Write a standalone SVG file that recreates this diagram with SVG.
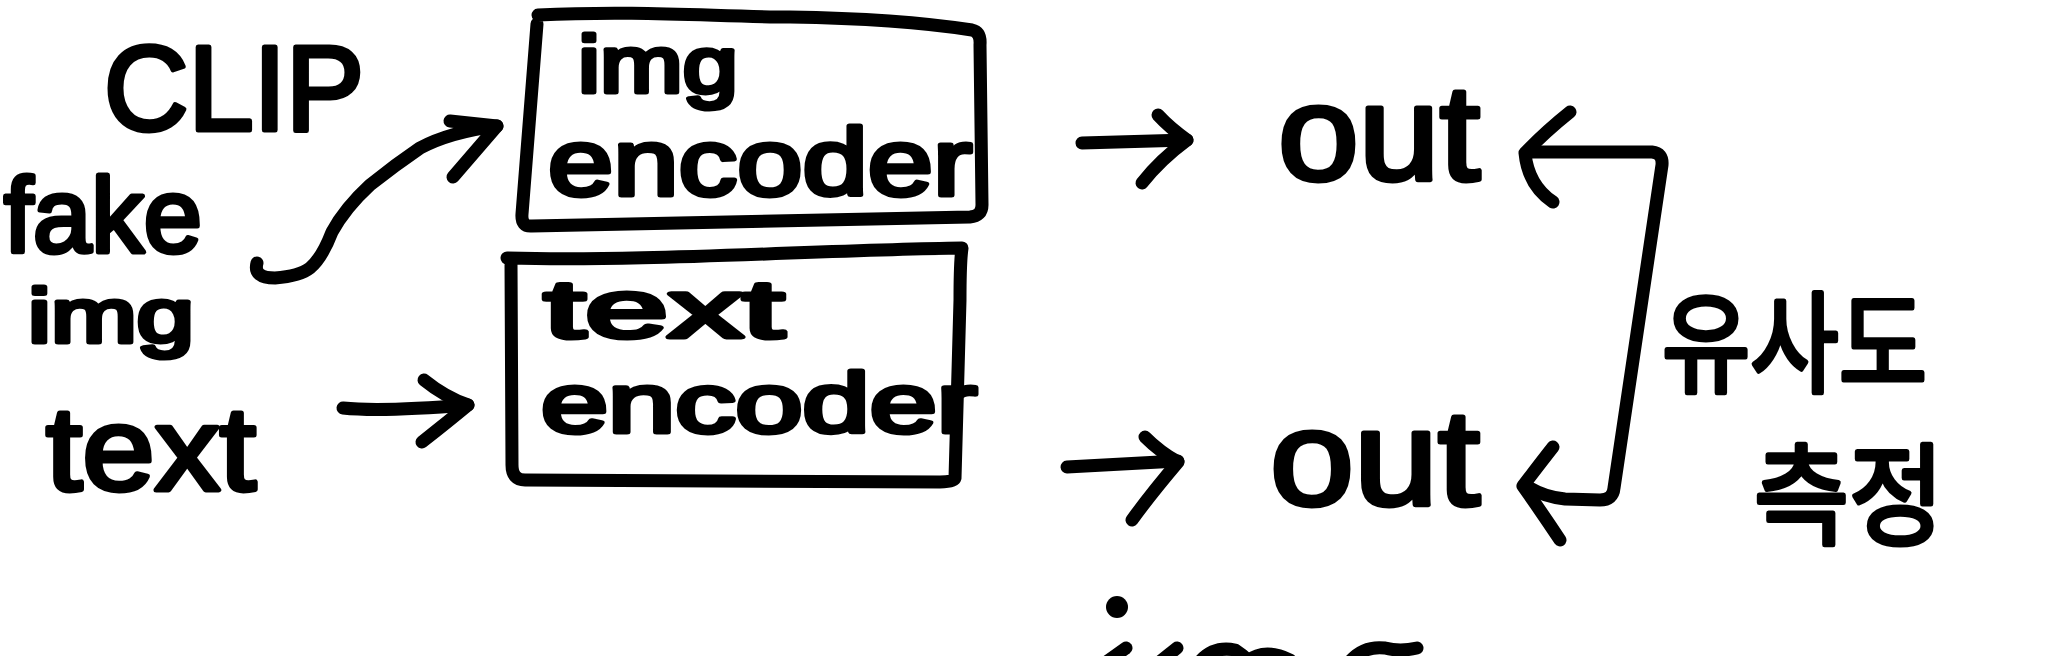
<svg xmlns="http://www.w3.org/2000/svg" width="2048" height="656" viewBox="0 0 2048 656">
<style>
  .hw { font-family: "Liberation Sans", Arial, sans-serif; font-weight: 400; fill: #000; stroke: #000; stroke-width: 5; stroke-linejoin: round; }
  .ko { font-family: "Noto Sans CJK KR", sans-serif; font-weight: 400; fill: #000; stroke: #000; stroke-width: 5; stroke-linejoin: round; }
  .ln { fill: none; stroke: #000; stroke-width: 13; stroke-linecap: round; stroke-linejoin: round; }
</style>
<rect width="2048" height="656" fill="#fff"/>

<g id="title-clip">
  <text class="hw" x="104" y="130" font-size="120" textLength="260" lengthAdjust="spacingAndGlyphs">CLIP</text>
</g>

<g id="fake-img">
  <text class="hw" x="4" y="252" font-size="106" textLength="198" lengthAdjust="spacingAndGlyphs">fake</text>
  <text class="hw" x="28" y="342" font-size="76" textLength="166" lengthAdjust="spacingAndGlyphs">img</text>
</g>

<g id="text-input">
  <text class="hw" x="46" y="490" font-size="118" textLength="210" lengthAdjust="spacingAndGlyphs">text</text>
</g>

<g id="img-encoder">
  <path class="ln" d="M538,15 C640,10 720,17 790,17 C860,18 920,22 972,30 Q981,32 980,45 L982,205 Q982,216 970,217 L532,226 Q521,227 522,214 L537,24"/>
  <text class="hw" x="578" y="92" font-size="80" textLength="160" lengthAdjust="spacingAndGlyphs">img</text>
  <text class="hw" x="548" y="195" font-size="95" textLength="424" lengthAdjust="spacingAndGlyphs">encoder</text>
</g>

<g id="text-encoder">
  <path class="ln" d="M507,258 C640,262 820,250 962,248 Q960,262 960,300 L955,478 Q954,482 940,482 L525,480 Q512,480 512,465 L511,262"/>
  <text class="hw" x="544" y="337" font-size="82" textLength="240" lengthAdjust="spacingAndGlyphs">text</text>
  <text class="hw" x="541" y="432" font-size="84" textLength="436" lengthAdjust="spacingAndGlyphs">encoder</text>
</g>

<g id="out-img">
  <text class="hw" x="1278" y="180" font-size="135" textLength="202" lengthAdjust="spacingAndGlyphs">out</text>
</g>

<g id="out-text">
  <text class="hw" x="1270" y="505" font-size="135" textLength="210" lengthAdjust="spacingAndGlyphs">out</text>
</g>

<g id="similarity-label">
  <text class="ko" x="1662" y="384" font-size="110" textLength="265" lengthAdjust="spacingAndGlyphs">유사도</text>
  <text class="ko" x="1754" y="536" font-size="110" textLength="190" lengthAdjust="spacingAndGlyphs">측정</text>
</g>

<g id="connectors">
  <!-- fake img -> img encoder -->
  <path class="ln" d="M257,263 Q253,278 275,278 Q300,276 310,268 Q322,258 332,232 Q345,208 370,185 Q395,165 420,148 Q450,132 497,126"/>
  <path class="ln" d="M450,121 L497,126 L453,177"/>
  <!-- text -> text encoder -->
  <path class="ln" d="M343,408 Q380,412 468,405"/>
  <path class="ln" d="M424,380 Q445,397 468,405 Q450,420 422,442"/>
  <!-- img encoder -> out -->
  <path class="ln" d="M1082,143 L1187,140"/>
  <path class="ln" d="M1158,115 Q1170,128 1187,140 Q1160,160 1142,183"/>
  <!-- text encoder -> out -->
  <path class="ln" d="M1067,467 L1178,461"/>
  <path class="ln" d="M1145,437 Q1160,452 1178,462 Q1150,495 1132,520"/>
  <!-- bracket between outs -->
  <path class="ln" d="M1532,152 L1652,152 Q1663,153 1662,165 L1614,488 Q1613,500 1600,500 L1565,499 Q1545,497 1530,488"/>
  <path class="ln" d="M1570,112 Q1545,132 1525,153 Q1528,185 1553,202"/>
  <path class="ln" d="M1553,447 Q1535,470 1523,486 Q1540,510 1560,540"/>
</g>

<g id="cut-off-bottom">
  <circle cx="1117" cy="607" r="11" fill="#000"/>
  <path class="ln" d="M1098,668 L1126,648"/>
  <path class="ln" d="M1152,668 L1177,648"/>
  <path class="ln" d="M1195,668 Q1210,645 1235,650 Q1250,660 1255,668 M1240,668 Q1260,645 1290,660"/>
  <path class="ln" d="M1345,668 Q1360,645 1385,648 Q1400,652 1417,648"/>
</g>
</svg>
